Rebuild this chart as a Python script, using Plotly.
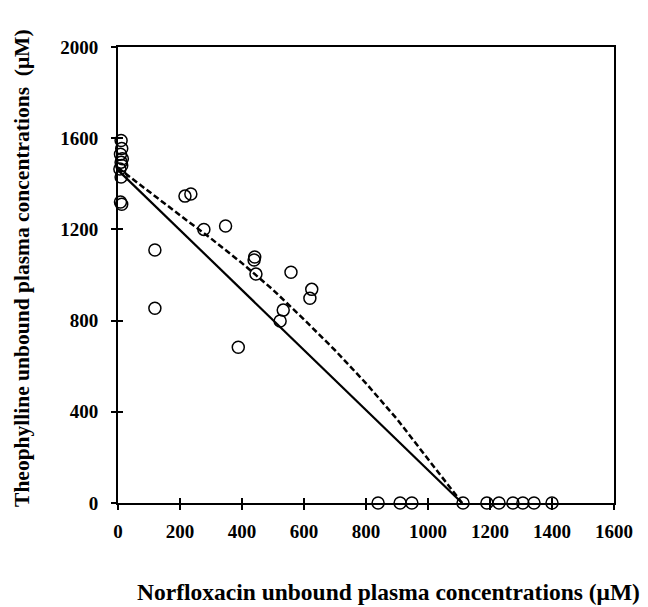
import plotly.graph_objects as go

# Observed data (open circles)
obs_x = [10, 12, 8, 14, 10, 12, 6, 10, 8, 12,
         119, 119, 216, 235, 277, 347, 388, 439, 441, 445, 558, 625, 619, 533, 523,
         839, 910, 948, 1113, 1190, 1229, 1274, 1306, 1342, 1400]
obs_y = [1590, 1555, 1530, 1510, 1495, 1480, 1465, 1430, 1320, 1310,
         1110, 854, 1346, 1355, 1200, 1215, 683, 1066, 1079, 1004, 1012, 937, 898, 846, 798,
         0, 0, 0, 0, 0, 0, 0, 0, 0, 0]

# Model lines
solid_x = [0, 1110]
solid_y = [1460, 0]
dashed_x = [0, 100, 200, 300, 400, 500, 600, 700, 800, 900, 1000, 1110]
dashed_y = [1470, 1365, 1262, 1160, 1052, 935, 805, 670, 525, 368, 195, 0]

x_ticks = [0, 200, 400, 600, 800, 1000, 1200, 1400, 1600]
y_ticks = [0, 400, 800, 1200, 1600, 2000]

FONT = "Liberation Serif"

fig = go.Figure()
fig.add_trace(go.Scatter(x=solid_x, y=solid_y, mode="lines",
                         line=dict(color="black", width=2.2), showlegend=False))
fig.add_trace(go.Scatter(x=dashed_x, y=dashed_y, mode="lines",
                         line=dict(color="black", width=2.5, dash="6px,3px"), showlegend=False))
fig.add_trace(go.Scatter(x=obs_x, y=obs_y, mode="markers", cliponaxis=False,
                         marker=dict(symbol="circle-open", size=12, color="black",
                                     line=dict(width=1.5, color="black")),
                         showlegend=False))
# helper empty trace for overlay axes (inside tick halves)
fig.add_trace(go.Scatter(x=[], y=[], xaxis="x2", yaxis="y2", showlegend=False))

axis_common = dict(showgrid=False, zeroline=False)
fig.update_layout(
    width=648, height=607,
    margin=dict(l=110, r=42, t=39, b=112),
    plot_bgcolor="white", paper_bgcolor="white",
    font=dict(family=FONT, color="black"),
    xaxis=dict(range=[0, 1600], tickvals=x_ticks, ticks="outside", ticklen=5, tickwidth=2,
               tickcolor="black", showline=True, mirror=True, linewidth=2, linecolor="black",
               tickfont=dict(family=FONT, size=19, color="black", weight="bold"),
               ticklabelstandoff=5, **axis_common),
    yaxis=dict(range=[0, 2000], tickvals=y_ticks, ticks="outside", ticklen=5, tickwidth=2,
               tickcolor="black", showline=True, mirror=True, linewidth=2, linecolor="black",
               tickfont=dict(family=FONT, size=19, color="black", weight="bold"),
               ticklabelstandoff=9, **axis_common),
    xaxis2=dict(range=[0, 1600], tickvals=x_ticks, ticks="inside", ticklen=5, tickwidth=2,
                tickcolor="black", showticklabels=False, overlaying="x", anchor="y2",
                side="bottom", showline=False, **axis_common),
    yaxis2=dict(range=[0, 2000], tickvals=y_ticks, ticks="inside", ticklen=5, tickwidth=2,
                tickcolor="black", showticklabels=False, overlaying="y", anchor="x2",
                side="left", showline=False, **axis_common),
    annotations=[
        dict(text="Norfloxacin unbound plasma concentrations (μM)", xref="paper", yref="paper",
             x=0.546, y=-0.195, xanchor="center", yanchor="middle", showarrow=False,
             font=dict(family=FONT, size=23.5, color="black", weight="bold")),
        dict(text="Theophylline unbound plasma concentrations  (μM)", xref="paper", yref="paper",
             x=-0.194, y=0.515, xanchor="center", yanchor="middle", showarrow=False, textangle=-90,
             font=dict(family=FONT, size=21.5, color="black", weight="bold")),
    ],
)

fig.write_html("out.html")
